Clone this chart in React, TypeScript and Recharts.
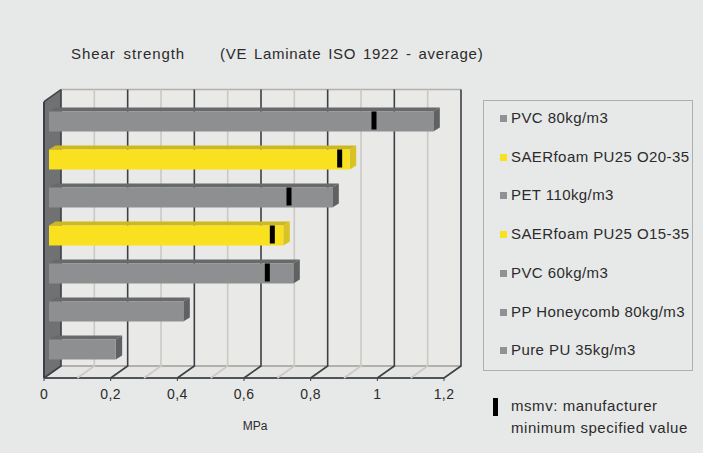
import React from 'react';
import { BarChart, Bar, XAxis, YAxis, ReferenceArea, ReferenceLine, Legend } from 'recharts';

const categories = ['PVC 80kg/m3', 'SAERfoam PU25 O20-35', 'PET 110kg/m3', 'SAERfoam PU25 O15-35', 'PVC 60kg/m3', 'PP Honeycomb 80kg/m3', 'Pure PU 35kg/m3'];
const shearStrength = [1.153, 0.902, 0.85, 0.703, 0.733, 0.403, 0.2];
const msmv: (number | null)[] = [0.975, 0.872, 0.72, 0.67, 0.655, null, null];
const highlighted = ['SAERfoam PU25 O20-35', 'SAERfoam PU25 O15-35'];
const majorTicks = [0, 0.2, 0.4, 0.6, 0.8, 1, 1.2];
const minorTicks = [0.1, 0.3, 0.5, 0.7, 0.9, 1.1];

const data = categories.map((name, i) => ({ name, value: shearStrength[i], msmv: msmv[i] }));

const FONT = '"Liberation Sans", Arial, sans-serif';
const BG = '#e7e8e8';
const DARK = '#3d4045';
const LIGHT = '#cbc8c5';
const TEXT = '#2b2b2b';
const GREY = '#8d8f90';
const YELLOW = '#fae120';

// Depth layout of the pseudo 3D box relative to the plot area.
const FRONT_DX = -5;
const BACK_DX = 12;
const BACK_TOP = -13;
const BACK_BOTTOM = -2.5;
const FRONT_TOP = -0.8;
const FRONT_BOTTOM = 9.5;
const BAR_SIZE = 20;

const Box = (p: any) => {
  const { x, y, width, height } = p;
  const b = y + height;
  const fl = x + FRONT_DX, bl = x + BACK_DX;
  const fr = x + width + FRONT_DX, br = x + width + BACK_DX;
  return (
    <g>
      <rect x={bl} y={y + BACK_TOP} width={width} height={height + BACK_BOTTOM - BACK_TOP} fill="#e9e9e7" />
      <polygon points={`${fl},${b + FRONT_BOTTOM} ${bl},${b + BACK_BOTTOM} ${br},${b + BACK_BOTTOM} ${fr},${b + FRONT_BOTTOM}`} fill="#e5e5e3" />
      <polygon points={`${fl},${y + FRONT_TOP} ${bl},${y + BACK_TOP} ${bl},${b + BACK_BOTTOM} ${fl},${b + FRONT_BOTTOM}`} fill="#6f7173" />
      <line x1={fl} y1={y + FRONT_TOP} x2={bl} y2={y + BACK_TOP} stroke={DARK} strokeWidth={1.5} />
      <line x1={bl} y1={y + BACK_TOP} x2={br} y2={y + BACK_TOP} stroke="#b3afab" strokeWidth={1.5} />
      <line x1={bl} y1={b + BACK_BOTTOM} x2={br} y2={b + BACK_BOTTOM} stroke="#b3afab" strokeWidth={2} />
      <line x1={fl} y1={y + FRONT_TOP} x2={fl} y2={b + FRONT_BOTTOM} stroke={DARK} strokeWidth={2} />
      <line x1={fl} y1={b + FRONT_BOTTOM} x2={fr} y2={b + FRONT_BOTTOM} stroke="#50535a" strokeWidth={2} />
    </g>
  );
};

const gridLine = (color: string, w: number) => (p: any) => {
  const top = Math.min(p.y1, p.y2), bot = Math.max(p.y1, p.y2), x = p.x1;
  return (
    <polyline
      points={`${x + FRONT_DX},${bot + FRONT_BOTTOM} ${x + BACK_DX},${bot + BACK_BOTTOM} ${x + BACK_DX},${top + BACK_TOP}`}
      fill="none" stroke={color} strokeWidth={w}
    />
  );
};
const MajorLine = gridLine(DARK, 1.6);
const MinorLine = gridLine(LIGHT, 1.6);

const Bar3D = (p: any) => {
  const { x, y, width, height, payload } = p;
  const yellow = highlighted.includes(payload.name);
  const front = yellow ? YELLOW : GREY;
  const topFace = yellow ? '#cdb91f' : '#68696b';
  const side = yellow ? '#d8c322' : '#5f6163';
  const dx = 6.5, dy = 4;
  const r = x + width;
  return (
    <g>
      <polygon points={`${x},${y} ${x + dx},${y - dy} ${r + dx},${y - dy} ${r},${y}`} fill={topFace} />
      <polygon points={`${r},${y} ${r + dx},${y - dy} ${r + dx},${y + height - dy} ${r},${y + height}`} fill={side} />
      <rect x={x} y={y} width={width} height={height} fill={front} />
    </g>
  );
};

const Marker = (p: any) => {
  const { x, y, width, height, payload } = p;
  if (payload.msmv == null) return null;
  return <rect x={x + width - 2.5} y={y} width={5} height={height - 2} fill="#000" />;
};

const Tick = (p: any) => {
  const { x, y, payload } = p;
  const tx = x + FRONT_DX;
  return (
    <g>
      <line x1={tx} y1={y + FRONT_BOTTOM} x2={tx} y2={y + FRONT_BOTTOM + 3} stroke={DARK} strokeWidth={1} />
      <text x={tx} y={y + 30} textAnchor="middle" fontFamily={FONT} fontSize={14} letterSpacing={0.4} fill={TEXT}>
        {String(payload.value).replace('.', ',')}
      </text>
    </g>
  );
};

const LegendBox = () => (
  <div style={{ position: 'absolute', left: 0, top: 0, width: 210, height: 271, border: '1.5px solid #adafaf', boxSizing: 'border-box', fontFamily: FONT, fontSize: 15, letterSpacing: 0.42, color: TEXT }}>
    {categories.map((c, i) => (
      <div key={c} style={{ position: 'absolute', left: 16, top: 8 + i * 38.7, whiteSpace: 'nowrap', height: 18, lineHeight: '18px' }}>
        <span style={{ position: 'absolute', left: 0, top: 6, width: 7, height: 7, background: highlighted.includes(c) ? YELLOW : '#8f9192' }} />
        <span style={{ position: 'absolute', left: 11, top: 0 }}>{c}</span>
      </div>
    ))}
  </div>
);

export default function App() {
  return (
    <div style={{ position: 'absolute', left: 0, top: 0, width: 703, height: 453, background: BG, overflow: 'hidden' }}>
      <BarChart
        width={703}
        height={453}
        data={data}
        layout="vertical"
        barSize={BAR_SIZE}
        barGap={-BAR_SIZE}
        margin={{ left: 49, right: 254, top: 102.5, bottom: 83.5 }}
      >
        <XAxis
          type="number"
          dataKey="value"
          domain={[0, 1.2]}
          ticks={majorTicks}
          height={1}
          axisLine={false}
          tickLine={false}
          tickSize={0}
          tickMargin={0}
          interval={0}
          tick={<Tick />}
          label={{ value: 'MPa', position: 'bottom', offset: 52, dx: 6, fontFamily: FONT, fontSize: 12, fill: TEXT }}
        />
        <YAxis type="category" dataKey="name" width={0} hide />
        <ReferenceArea x1={0} x2={1.2} shape={Box} fill="none" stroke="none" ifOverflow="visible" zIndex={100} />
        {minorTicks.map((t) => (
          <ReferenceLine key={t} x={t} shape={MinorLine} ifOverflow="visible" zIndex={150} />
        ))}
        {majorTicks.map((t) => (
          <ReferenceLine key={t} x={t} shape={MajorLine} ifOverflow="visible" zIndex={150} />
        ))}
        <Bar dataKey="value" shape={Bar3D} isAnimationActive={false} />
        <Bar dataKey="msmv" shape={Marker} isAnimationActive={false} />
        <Legend
          content={LegendBox}
          wrapperStyle={{ position: 'absolute', left: 483, top: 100, width: 0, height: 0 }}
        />
      </BarChart>
      <div style={{ position: 'absolute', left: 71, top: 45, fontFamily: FONT, fontSize: 15, letterSpacing: 0.9, wordSpacing: 3, color: TEXT, whiteSpace: 'nowrap' }}>Shear strength</div>
      <div style={{ position: 'absolute', left: 220, top: 45, fontFamily: FONT, fontSize: 15, letterSpacing: 0.7, wordSpacing: 2, color: TEXT, whiteSpace: 'nowrap' }}>(VE Laminate ISO 1922 - average)</div>
      <div style={{ position: 'absolute', left: 493, top: 398, width: 5, height: 18, background: '#000' }} />
      <div style={{ position: 'absolute', left: 511, top: 395, fontFamily: FONT, fontSize: 15, letterSpacing: 0.55, lineHeight: '21.5px', color: TEXT, whiteSpace: 'nowrap' }}>
        msmv: manufacturer<br />minimum specified value
      </div>
    </div>
  );
}
